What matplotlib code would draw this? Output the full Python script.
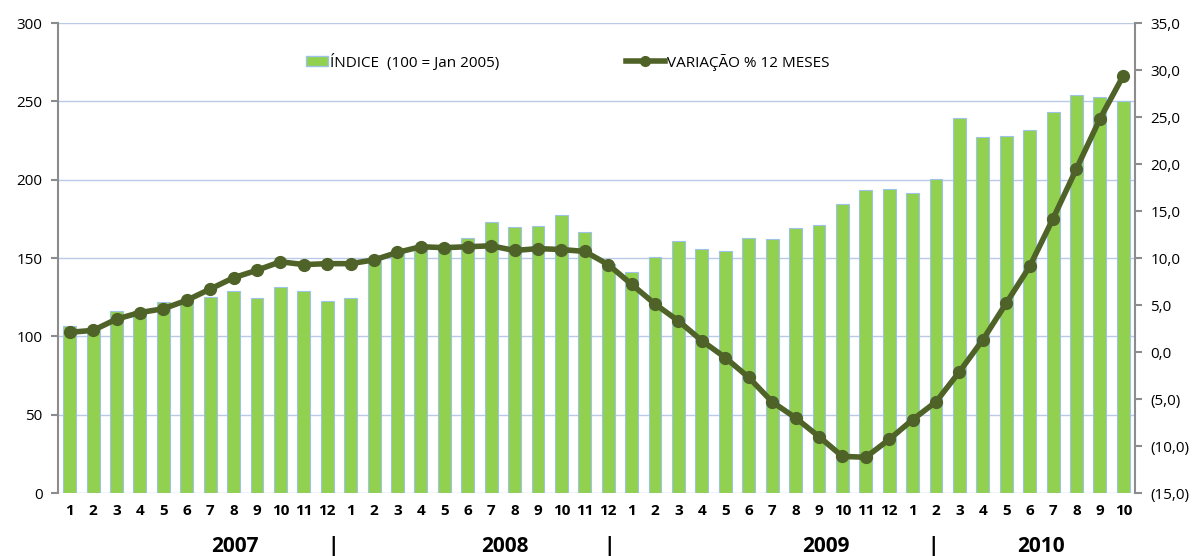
import matplotlib
matplotlib.use("Agg")
import matplotlib.pyplot as plt
from matplotlib.ticker import FuncFormatter, MultipleLocator
from matplotlib.lines import Line2D
from matplotlib.patches import Patch, Rectangle
from matplotlib.legend_handler import HandlerPatch

plt.rcParams['font.family'] = ['Open Sans', 'DejaVu Sans']

# monthly labels 2007-01 .. 2010-10
months = [str(m) for m in range(1, 13)] * 3 + [str(m) for m in range(1, 11)]
years = ["2007", "2008", "2009", "2010"]

indice = [106.8, 104.0, 116.3, 116.0, 122.0, 122.0, 125.3, 129.0, 124.2, 131.7, 129.0, 122.7,
          124.2, 149.0, 153.0, 156.0, 156.0, 162.5, 172.7, 169.5, 170.4, 177.4, 166.4, 146.0,
          140.8, 150.8, 161.0, 156.0, 154.6, 163.0, 161.9, 168.9, 170.8, 184.4, 193.2, 194.0,
          191.6, 200.2, 239.1, 227.2, 227.8, 232.0, 242.9, 253.9, 252.5, 250.2]

variacao = [2.1, 2.3, 3.5, 4.2, 4.6, 5.5, 6.7, 7.9, 8.7, 9.6, 9.3, 9.4,
            9.4, 9.8, 10.6, 11.2, 11.1, 11.2, 11.3, 10.8, 11.0, 10.9, 10.7, 9.3,
            7.2, 5.1, 3.3, 1.2, -0.6, -2.7, -5.3, -7.0, -9.0, -11.1, -11.2, -9.3,
            -7.2, -5.3, -2.1, 1.3, 5.2, 9.1, 14.2, 19.5, 24.8, 29.4]

bar_color = "#92d050"
line_color = "#4f6228"
grid_color = "#b9c9e6"
axis_color = "#8c8c8c"

fig = plt.figure(figsize=(12.03, 5.56), dpi=100)
ax = fig.add_axes([0.0482, 0.1133, 0.8953, 0.8453])
x = list(range(len(indice)))

ax.bar(x, indice, width=0.55, color=bar_color, edgecolor="#9dc3e6", linewidth=0.8, zorder=2)
ax.set_xlim(-0.5, len(indice) - 0.5)
ax.set_ylim(0, 300)
ax.yaxis.set_major_locator(MultipleLocator(50))
ax.grid(axis="y", color=grid_color, linewidth=1)
ax.set_axisbelow(True)
ax.set_xticks(x)
ax.set_xticklabels(months, fontweight="bold", fontsize=11)
ax.tick_params(axis="x", length=0, pad=8)
ax.tick_params(axis="y", labelsize=11, color=axis_color, length=5, width=1.5, pad=6)
for s in ["top", "right", "bottom"]:
    ax.spines[s].set_visible(False)
ax.spines["left"].set_color(axis_color)
ax.spines["left"].set_linewidth(1.5)

ax2 = ax.twinx()
ax2.plot(x, variacao, color=line_color, linewidth=4, marker="o", markersize=8.5, zorder=3)
ax2.set_ylim(-15, 35)
ax2.yaxis.set_major_locator(MultipleLocator(5))


def fmt(v, pos):
    s = f"{abs(v):.1f}".replace(".", ",")
    return f"({s})" if v < 0 else s


ax2.yaxis.set_major_formatter(FuncFormatter(fmt))
ax2.tick_params(axis="y", labelsize=11, color=axis_color, length=5, width=1.5, pad=6)
for s in ["top", "left", "bottom"]:
    ax2.spines[s].set_visible(False)
ax2.spines["right"].set_color(axis_color)
ax2.spines["right"].set_linewidth(1.5)

# year labels below month ticks
year_pos = [7.07, 18.6, 32.3, 41.5]
sep_pos = [11.26, 23.06, 36.86]
for yr, p in zip(years, year_pos):
    ax.text(p, -0.113, yr, transform=ax.get_xaxis_transform(), ha="center", va="center",
            fontsize=15, fontweight="bold")
for p in sep_pos:
    ax.text(p, -0.113, "|", transform=ax.get_xaxis_transform(), ha="center", va="center",
            fontsize=15, fontweight="bold")


def small_patch(legend, orig_handle, xdescent, ydescent, width, height, fontsize):
    return Rectangle((-xdescent + 0.45 * width, -ydescent + 0.05 * height), 0.55 * width, 0.9 * height)


handles = [Patch(facecolor=bar_color, edgecolor="#9dc3e6"),
           Line2D([0], [0], color=line_color, linewidth=4, marker="o", markersize=7)]
labels = ["ÍNDICE  (100 = Jan 2005)", "VARIAÇÃO % 12 MESES"]
ax2.legend(handles, labels, loc="center", bbox_to_anchor=(0.465, 0.917), ncol=2,
           frameon=False, fontsize=11, columnspacing=8.3, handlelength=2.6, handletextpad=0.1,
           handler_map={Patch: HandlerPatch(patch_func=small_patch)})

fig.savefig("out.png", dpi=100)
